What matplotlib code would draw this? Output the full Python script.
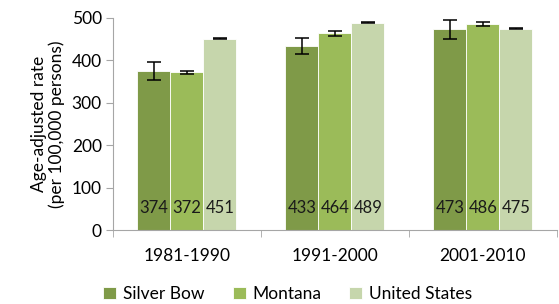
import numpy as np
import matplotlib.pyplot as plt

plt.rcParams['font.family'] = ['Lato', 'DejaVu Sans']

periods = ['1981-1990', '1991-2000', '2001-2010']
series = ['Silver Bow', 'Montana', 'United States']
silver_bow = [374, 433, 473]
montana = [372, 464, 486]
united_states = [451, 489, 475]
silver_bow_err = [21, 19, 22]
montana_err = [4, 6, 4]
united_states_err = [1, 1, 1]

colors = ['#7f9a48', '#9bbb59', '#c6d6ac']
values = [silver_bow, montana, united_states]
errors = [silver_bow_err, montana_err, united_states_err]

fig = plt.figure(figsize=(5.59, 3.04), dpi=100)
ax = fig.add_axes([0.202, 0.243, 0.794, 0.698])

x = np.arange(len(periods))
w = 0.223
for i in range(3):
    pos = x + (i - 1) * w
    ax.bar(pos, values[i], w, color=colors[i], edgecolor='white', linewidth=0.6,
           label=series[i], zorder=2)
    ax.errorbar(pos, values[i], yerr=errors[i], fmt='none', ecolor='black',
                elinewidth=1.1, capsize=5, capthick=1.1, zorder=3)
    for p, v in zip(pos, values[i]):
        ax.text(p, 52, str(v), ha='center', va='center', fontsize=12, color='#1a1a1a', zorder=4)

ax.set_xlim(-0.5, 2.5)
ax.set_ylim(0, 500)
ax.set_yticks([0, 100, 200, 300, 400, 500])
ax.set_xticks(x)
ax.set_xticklabels(periods)
ax.set_xticks([-0.5, 0.5, 1.5, 2.5], minor=True)
ax.tick_params(axis='x', which='major', length=0, pad=13, labelsize=12.5)
ax.tick_params(axis='x', which='minor', length=5, color='#a6a6a6')
ax.tick_params(axis='y', length=5, color='#a6a6a6', labelsize=12.5, pad=3)
for s in ['top', 'right']:
    ax.spines[s].set_visible(False)
ax.spines['left'].set_color('#a6a6a6')
ax.spines['bottom'].set_color('#a6a6a6')
ax.set_ylabel('Age-adjusted rate\n(per 100,000 persons)', fontsize=12.5, labelpad=5,
              linespacing=1.1)

fig.legend(loc='lower center', bbox_to_anchor=(0.515, -0.045), ncol=3, frameon=False,
           fontsize=12.5, handlelength=0.75, handleheight=0.75, handletextpad=0.4,
           columnspacing=1.6)

fig.savefig('out.png', dpi=100)
